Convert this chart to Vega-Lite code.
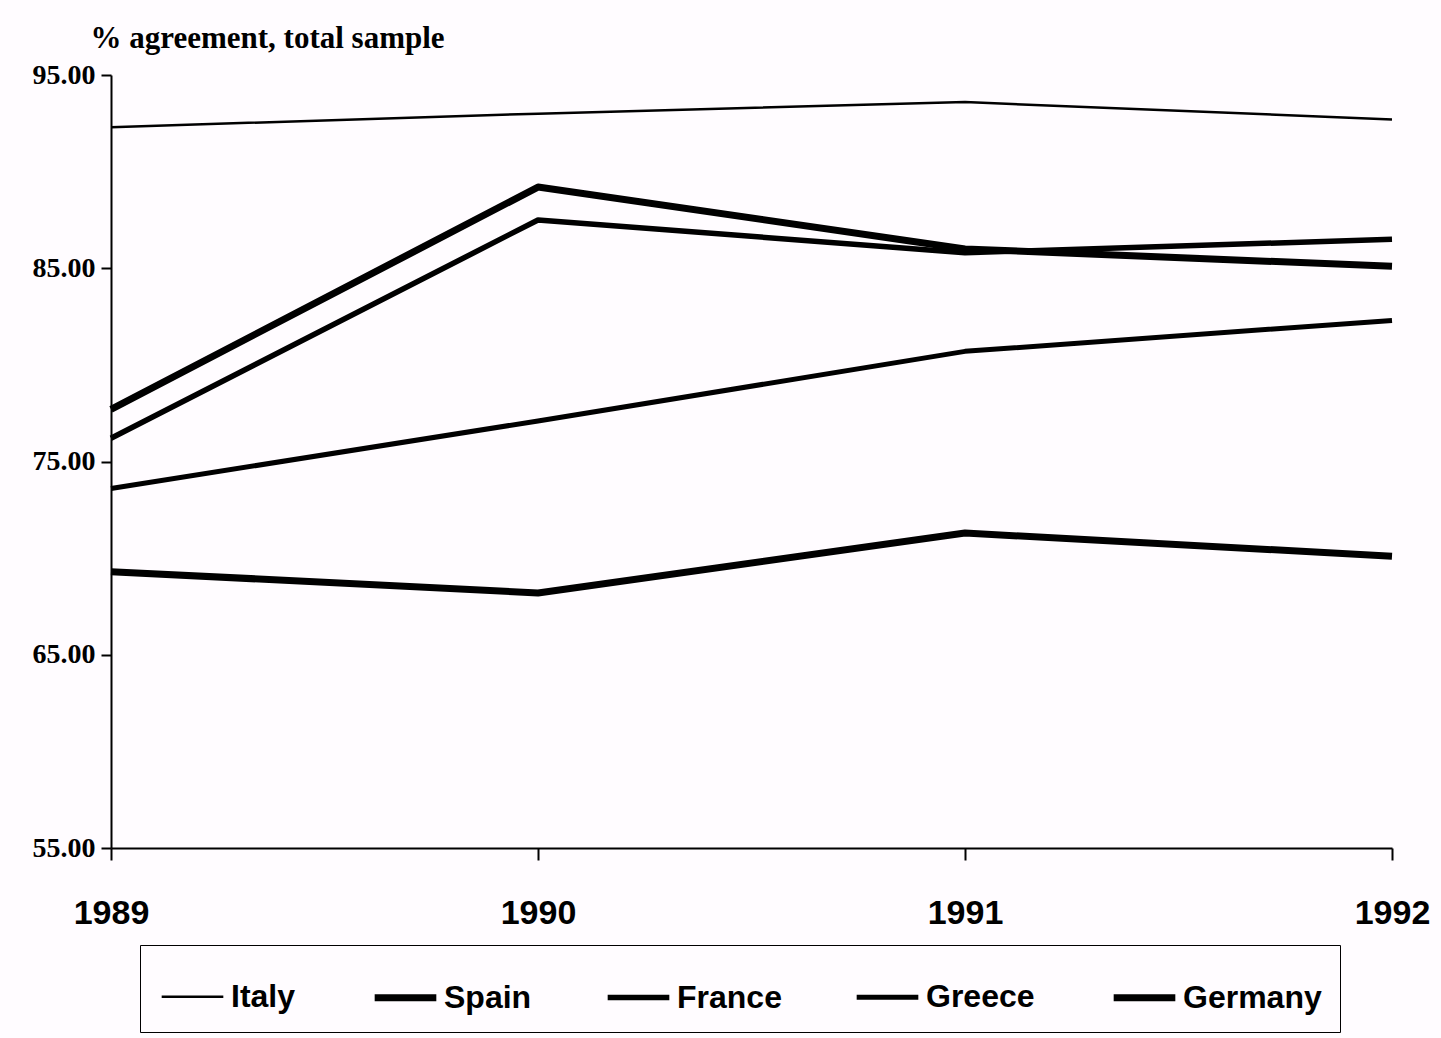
{
  "$schema": "https://vega.github.io/schema/vega-lite/v6.json",
  "width": 1281,
  "height": 773,
  "autosize": "none",
  "padding": {"left": 111, "top": 75, "right": 49, "bottom": 190},
  "background": "#fffcff",
  "config": {
    "view": {"stroke": null},
    "axis": {"grid": false, "domainColor": "#000", "tickColor": "#000", "labelColor": "#000", "titleColor": "#000"}
  },
  "data": {
    "values": [
      {"country": "Italy", "year": "1989", "value": 92.3},
      {"country": "Italy", "year": "1990", "value": 93.0},
      {"country": "Italy", "year": "1991", "value": 93.6},
      {"country": "Italy", "year": "1992", "value": 92.7},
      {"country": "Spain", "year": "1989", "value": 77.7},
      {"country": "Spain", "year": "1990", "value": 89.2},
      {"country": "Spain", "year": "1991", "value": 86.0},
      {"country": "Spain", "year": "1992", "value": 85.1},
      {"country": "France", "year": "1989", "value": 76.2},
      {"country": "France", "year": "1990", "value": 87.5},
      {"country": "France", "year": "1991", "value": 85.8},
      {"country": "France", "year": "1992", "value": 86.5},
      {"country": "Greece", "year": "1989", "value": 73.6},
      {"country": "Greece", "year": "1990", "value": 77.1},
      {"country": "Greece", "year": "1991", "value": 80.7},
      {"country": "Greece", "year": "1992", "value": 82.3},
      {"country": "Germany", "year": "1989", "value": 69.3},
      {"country": "Germany", "year": "1990", "value": 68.2},
      {"country": "Germany", "year": "1991", "value": 71.3},
      {"country": "Germany", "year": "1992", "value": 70.1}
    ]
  },
  "mark": {"type": "line", "strokeJoin": "round"},
  "encoding": {
    "x": {
      "field": "year", "type": "ordinal",
      "scale": {"type": "point", "padding": 0},
      "axis": {
        "title": null, "labelAngle": 0,
        "labelFont": "Liberation Sans",
        "labelFontSize": 34, "labelFontWeight": "bold",
        "labelPadding": 36, "tickSize": 12, "tickWidth": 2, "domainWidth": 2
      }
    },
    "y": {
      "field": "value", "type": "quantitative",
      "scale": {"domain": [55, 95], "nice": false, "zero": false},
      "axis": {
        "values": [55, 65, 75, 85, 95], "format": ".2f",
        "labelFont": "Liberation Serif", "labelFontSize": 28, "labelFontWeight": "bold",
        "tickSize": 10, "tickWidth": 2, "domainWidth": 2, "labelPadding": 6,
        "title": "% agreement, total sample", "titleAngle": 0, "titleAlign": "left",
        "titleBaseline": "alphabetic", "titleX": -21, "titleY": -28,
        "titleFont": "Liberation Serif", "titleFontSize": 31, "titleFontWeight": "bold"
      }
    },
    "color": {
      "field": "country", "type": "nominal",
      "scale": {"domain": ["Italy", "Spain", "France", "Greece", "Germany"], "range": ["#000", "#000", "#000", "#000", "#000"]},
      "legend": {
        "orient": "none", "legendX": 29, "legendY": 870,
        "direction": "horizontal", "columns": 5, "title": null,
        "symbolType": "stroke", "symbolSize": 3800,
        "labelFont": "Liberation Sans",
        "labelFontSize": 32, "labelFontWeight": "bold", "labelColor": "#000",
        "strokeColor": "#000", "padding": 18, "columnPadding": 64, "labelOffset": 4, "labelLimit": 300
      }
    },
    "strokeWidth": {
      "field": "country", "type": "nominal",
      "scale": {"type": "ordinal", "domain": ["Italy", "Spain", "France", "Greece", "Germany"], "range": [2.5, 7, 5.5, 5, 7]}
    }
  }
}
